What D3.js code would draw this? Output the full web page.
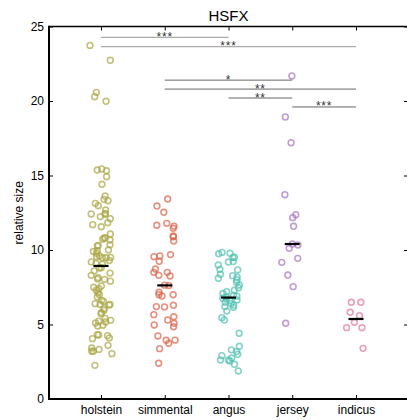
<!DOCTYPE html>
<html>
<head>
<meta charset="utf-8">
<script src="https://cdn.jsdelivr.net/npm/d3@7"></script>
<style>
    body { margin: 0; background: #fff; }
    #chart { width: 407px; height: 420px; }
    text { font-family: "Liberation Sans", Arial, Helvetica, sans-serif; }
</style>
</head>
<body>
<div id="chart"></div>
<script>

/*
DATA
*/

const breeds = ["holstein", "simmental", "angus", "jersey", "indicus"];
const breedColors = ["#aaa544", "#d9634a", "#52c1b2", "#a675be", "#e3739b"];

const holstein = [23.73, 22.73, 20.58, 20.29, 19.98,
    15.44, 15.37, 15.32, 14.92, 14.41, 13.62, 13.4, 13.31, 13.13, 12.97,
    12.68, 12.46, 12.42, 12.4, 12.24, 12.1, 11.83, 11.7, 11.56, 11.07,
    10.83, 10.79, 10.72, 10.67, 10.36, 10.31, 10.27, 10.0, 9.95, 9.9,
    9.78, 9.6, 9.55, 9.5, 9.48, 9.48, 9.3, 9.2, 9.1, 9.05,
    8.81, 8.79, 8.6, 8.45, 8.3, 8.14, 8.05, 8.03, 7.91, 7.58,
    7.5, 7.4, 7.3, 7.13, 7.0, 6.85, 6.62, 6.55, 6.4, 6.35,
    6.35, 6.3, 6.06, 5.95, 5.8, 5.72, 5.41, 5.28, 5.22, 5.17,
    5.1, 4.95, 4.9, 4.32, 4.3, 4.25, 4.1, 4.05, 3.6, 3.42,
    3.33, 3.2, 3.2, 3.04, 2.26];

const simmental = [13.42, 12.95, 12.53, 11.79, 11.66, 11.6, 11.46, 10.94, 10.89, 10.6,
    9.69, 9.6, 9.55, 9.24, 8.72, 8.5, 8.5, 8.3, 8.26, 7.64,
    7.61, 7.16, 7.0, 7.0, 6.91, 6.29, 6.2, 6.18, 5.66, 5.52,
    5.3, 5.08, 4.97, 4.85, 4.23, 3.95, 3.94, 3.74, 3.38, 2.4];

const angus = [9.84, 9.78, 9.75, 9.51, 9.5, 9.22, 9.19, 8.99, 8.7, 8.66,
    8.37, 8.28, 8.17, 8.1, 7.99, 7.83, 7.65, 7.47, 7.3, 7.2,
    7.08, 6.95, 6.9, 6.85, 6.76, 6.7, 6.65, 6.6, 6.5, 6.4,
    6.3, 6.2, 6.15, 5.9, 5.46, 5.3, 4.41, 3.54, 3.3, 3.18,
    3.0, 2.91, 2.75, 2.62, 2.62, 2.55, 2.33, 1.88];

const jersey = [21.68, 18.93, 17.2, 13.71, 12.37, 12.17, 11.59, 10.4, 10.34, 10.11,
    9.44, 9.17, 8.32, 7.54, 5.08];

const indicus = [6.49, 6.49, 5.82, 5.59, 5.15, 4.79, 4.79, 3.4];

const yTicks = [0, 5, 10, 15, 20, 25];

// significance brackets
const sigFrom = ["holstein", "holstein", "simmental", "simmental", "angus", "jersey"];
const sigTo = ["angus", "indicus", "jersey", "indicus", "jersey", "indicus"];
const sigY = [24.27, 23.65, 21.4, 20.8, 20.2, 19.6];
const sigLabel = ["***", "***", "*", "**", "**", "***"];

const groups = [holstein, simmental, angus, jersey, indicus];

/*
DIMENSIONS + CANVAS
*/

const width = 407;
const height = 420;
const plot = {left: 49, right: 408, top: 26.5, bottom: 399};
const r = 2.9;

const svg = d3.select("#chart")
    .append("svg")
    .attr("width", width)
    .attr("height", height);

/*
SCALES
*/

const xScale = d3.scalePoint()
    .domain(breeds)
    .range([plot.left, plot.right])
    .padding(0.816);

const yScale = d3.scaleLinear()
    .domain([0, 25])
    .range([plot.bottom, plot.top]);

const colorScale = d3.scaleOrdinal()
    .domain(breeds)
    .range(breedColors);

// small seeded jitter so the strip plot is the same every run
let seed = 7;
function jitter(){
    seed = (seed * 16807) % 2147483647;
    return (seed / 2147483647) - 0.5;
}

let points = [];
groups.forEach(function(vals, i){
    vals.forEach(function(v){
        points.push({breed: breeds[i], value: v, dx: jitter() * 22});
    });
});

/*
POINTS
*/

svg.selectAll(".pt")
    .data(points)
    .enter()
    .append("circle")
    .attr("class", "pt")
    .attr("cx", function(d){ return xScale(d.breed) + d.dx; })
    .attr("cy", function(d){ return yScale(d.value); })
    .attr("r", r)
    .attr("fill", "none")
    .attr("stroke", function(d){ return colorScale(d.breed); })
    .attr("stroke-width", 1.6)
    .attr("stroke-opacity", 0.7);

/*
MEDIANS
*/

svg.selectAll(".median")
    .data(breeds)
    .enter()
    .append("line")
    .attr("class", "median")
    .attr("x1", function(d){ return xScale(d) - 7.5; })
    .attr("x2", function(d){ return xScale(d) + 7.5; })
    .attr("y1", function(d, i){ return yScale(d3.median(groups[i])); })
    .attr("y2", function(d, i){ return yScale(d3.median(groups[i])); })
    .attr("stroke", "#000")
    .attr("stroke-width", 2.2);

/*
SIGNIFICANCE BARS
*/

sigFrom.forEach(function(f, i){
    let x1 = xScale(f);
    let x2 = xScale(sigTo[i]);
    let y = yScale(sigY[i]);

    svg.append("line")
        .attr("x1", x1)
        .attr("x2", x2)
        .attr("y1", y)
        .attr("y2", y)
        .attr("stroke", i < 2 ? "#aaa" : "#666")
        .attr("stroke-width", i < 2 ? 1.3 : 1);

    svg.append("text")
        .attr("x", (x1 + x2) / 2)
        .attr("y", y + 3.5)
        .attr("text-anchor", "middle")
        .attr("fill", "#333")
        .style("font-size", "12px")
        .style("letter-spacing", "0.8px")
        .text(sigLabel[i]);
});

/*
AXES
*/

let yAxis = svg.append("g")
    .attr("transform", `translate(${plot.left},0)`)
    .call(d3.axisLeft(yScale).tickValues(yTicks).tickSizeInner(-4).tickSizeOuter(0).tickPadding(5));

let yAxisRight = svg.append("g")
    .attr("transform", `translate(${plot.right},0)`)
    .call(d3.axisRight(yScale).tickValues(yTicks).tickSizeInner(-4).tickSizeOuter(0).tickFormat(""));

let xAxis = svg.append("g")
    .attr("transform", `translate(0,${plot.bottom})`)
    .call(d3.axisBottom(xScale).tickSizeInner(-4).tickSizeOuter(0).tickPadding(6));

let xAxisTop = svg.append("g")
    .attr("transform", `translate(0,${plot.top})`)
    .call(d3.axisTop(xScale).tickSizeInner(-4).tickSizeOuter(0).tickFormat(""));

svg.selectAll(".domain").remove();
svg.selectAll(".tick line").attr("stroke", "#000").attr("stroke-width", 1);
svg.selectAll(".tick text")
    .attr("fill", "#000")
    .style("font-size", "12px")
    .style("font-family", "'Liberation Sans', Arial, sans-serif");

// spines
svg.append("line")
    .attr("x1", plot.left).attr("x2", plot.left)
    .attr("y1", plot.top - 0.75).attr("y2", plot.bottom + 1)
    .attr("stroke", "#000").attr("stroke-width", 2);

svg.append("line")
    .attr("x1", plot.left - 1).attr("x2", plot.right)
    .attr("y1", plot.bottom).attr("y2", plot.bottom)
    .attr("stroke", "#000").attr("stroke-width", 2);

svg.append("line")
    .attr("x1", plot.left).attr("x2", plot.right)
    .attr("y1", plot.top).attr("y2", plot.top)
    .attr("stroke", "#000").attr("stroke-width", 1.5);

svg.append("line")
    .attr("x1", plot.right).attr("x2", plot.right)
    .attr("y1", plot.top).attr("y2", plot.bottom)
    .attr("stroke", "#000").attr("stroke-width", 2);

/*
LABELS
*/

svg.append("text")
    .attr("x", (plot.left + plot.right) / 2)
    .attr("y", 21)
    .attr("text-anchor", "middle")
    .attr("fill", "#000")
    .style("font-size", "15px")
    .text("HSFX");

svg.append("text")
    .attr("transform", `translate(23,${(plot.top + plot.bottom) / 2}) rotate(-90)`)
    .attr("text-anchor", "middle")
    .attr("fill", "#000")
    .style("font-size", "12px")
    .text("relative size");

</script>
</body>
</html>
